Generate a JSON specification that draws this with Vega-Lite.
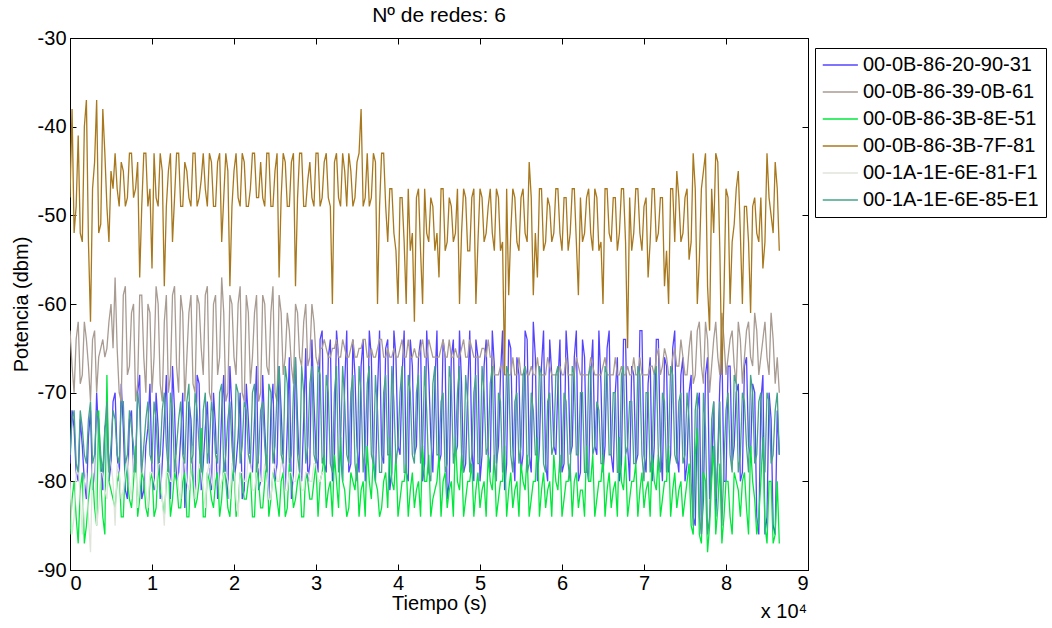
{
  "$schema": "https://vega.github.io/schema/vega-lite/v6.json",
  "width": 738,
  "height": 532,
  "autosize": {"type": "none"},
  "padding": {"left": 70, "top": 38, "right": 244, "bottom": 58},
  "background": "white",
  "config": {
    "font": "Liberation Sans",
    "view": {"stroke": "black", "strokeWidth": 1},
    "axis": {"grid": false, "domainColor": "black", "tickColor": "black", "labelColor": "black", "titleColor": "black", "labelFontSize": 20, "titleFontSize": 20, "titleFontWeight": "normal", "tickSize": -6}
  },
  "title": {"text": "Nº de redes: 6", "fontSize": 21, "fontWeight": "normal", "color": "black", "offset": 2, "anchor": "middle"},
  "layer": [
    {
      "data": {"values": [
{"t":0,"A":-78,"B":-63,"C":-86,"D":-48,"E":-80,"F":-77},
{"t":500,"A":-74,"B":-70,"C":-80,"D":-52,"E":-84,"F":-72},
{"t":1000,"A":-80,"B":-62,"C":-87,"D":-41,"E":-78,"F":-79},
{"t":1500,"A":-76,"B":-68,"C":-79,"D":-53,"E":-86,"F":-74},
{"t":2000,"A":-82,"B":-64,"C":-85,"D":-37,"E":-79,"F":-78},
{"t":2500,"A":-72,"B":-71,"C":-80,"D":-62,"E":-88,"F":-71},
{"t":3000,"A":-79,"B":-63,"C":-83,"D":-44,"E":-77,"F":-77},
{"t":3500,"A":-75,"B":-66,"C":-72,"D":-52,"E":-83,"F":-73},
{"t":4000,"A":-81,"B":-64,"C":-84,"D":-38,"E":-79,"F":-79},
{"t":4500,"A":-73,"B":-65,"C":-68,"D":-49,"E":-82,"F":-71},
{"t":5000,"A":-78,"B":-60,"C":-81,"D":-45,"E":-78,"F":-76},
{"t":5500,"A":-70,"B":-57,"C":-83,"D":-43,"E":-85,"F":-73},
{"t":6000,"A":-80,"B":-70,"C":-79,"D":-49,"E":-79,"F":-78},
{"t":6500,"A":-74,"B":-59,"C":-84,"D":-45,"E":-81,"F":-71},
{"t":7000,"A":-82,"B":-68,"C":-80,"D":-48,"E":-77,"F":-77},
{"t":7500,"A":-72,"B":-61,"C":-83,"D":-43,"E":-82,"F":-74},
{"t":8000,"A":-78,"B":-71,"C":-76,"D":-47,"E":-78,"F":-79},
{"t":8500,"A":-68,"B":-59,"C":-82,"D":-57,"E":-80,"F":-72},
{"t":9000,"A":-81,"B":-66,"C":-80,"D":-43,"E":-76,"F":-76},
{"t":9500,"A":-74,"B":-60,"C":-84,"D":-49,"E":-83,"F":-71},
{"t":10000,"A":-79,"B":-70,"C":-79,"D":-56,"E":-79,"F":-78},
{"t":10500,"A":-70,"B":-58,"C":-83,"D":-48,"E":-81,"F":-73},
{"t":11000,"A":-82,"B":-69,"C":-81,"D":-43,"E":-78,"F":-77},
{"t":11500,"A":-73,"B":-62,"C":-84,"D":-58,"E":-85,"F":-70},
{"t":12000,"A":-78,"B":-70,"C":-78,"D":-45,"E":-79,"F":-79},
{"t":12500,"A":-67,"B":-59,"C":-82,"D":-53,"E":-80,"F":-72},
{"t":13000,"A":-80,"B":-67,"C":-80,"D":-43,"E":-77,"F":-76},
{"t":13500,"A":-75,"B":-59,"C":-83,"D":-49,"E":-82,"F":-71},
{"t":14000,"A":-83,"B":-71,"C":-79,"D":-44,"E":-78,"F":-78},
{"t":14500,"A":-71,"B":-61,"C":-84,"D":-48,"E":-81,"F":-69},
{"t":15000,"A":-79,"B":-69,"C":-80,"D":-43,"E":-76,"F":-77},
{"t":15500,"A":-68,"B":-59,"C":-82,"D":-49,"E":-80,"F":-72},
{"t":16000,"A":-81,"B":-65,"C":-74,"D":-46,"E":-79,"F":-79},
{"t":16500,"A":-74,"B":-59,"C":-84,"D":-47,"E":-83,"F":-70},
{"t":17000,"A":-78,"B":-70,"C":-80,"D":-43,"E":-78,"F":-76},
{"t":17500,"A":-70,"B":-60,"C":-83,"D":-49,"E":-81,"F":-73},
{"t":18000,"A":-82,"B":-68,"C":-79,"D":-44,"E":-77,"F":-78},
{"t":18500,"A":-72,"B":-57,"C":-82,"D":-53,"E":-80,"F":-69},
{"t":19000,"A":-79,"B":-71,"C":-80,"D":-43,"E":-79,"F":-77},
{"t":19500,"A":-67,"B":-59,"C":-84,"D":-58,"E":-82,"F":-71},
{"t":20000,"A":-80,"B":-66,"C":-78,"D":-45,"E":-78,"F":-79},
{"t":20500,"A":-75,"B":-60,"C":-83,"D":-48,"E":-84,"F":-70},
{"t":21000,"A":-82,"B":-70,"C":-80,"D":-43,"E":-79,"F":-76},
{"t":21500,"A":-69,"B":-59,"C":-82,"D":-49,"E":-80,"F":-72},
{"t":22000,"A":-78,"B":-69,"C":-79,"D":-47,"E":-77,"F":-78},
{"t":22500,"A":-73,"B":-61,"C":-84,"D":-43,"E":-81,"F":-69},
{"t":23000,"A":-81,"B":-71,"C":-80,"D":-48,"E":-78,"F":-77},
{"t":23500,"A":-68,"B":-59,"C":-83,"D":-48,"E":-80,"F":-71},
{"t":24000,"A":-79,"B":-67,"C":-77,"D":-43,"E":-79,"F":-79},
{"t":24500,"A":-72,"B":-61,"C":-82,"D":-49,"E":-82,"F":-70},
{"t":25000,"A":-80,"B":-70,"C":-80,"D":-45,"E":-78,"F":-76},
{"t":25500,"A":-67,"B":-59,"C":-84,"D":-57,"E":-80,"F":-67},
{"t":26000,"A":-78,"B":-68,"C":-79,"D":-43,"E":-77,"F":-78},
{"t":26500,"A":-74,"B":-61,"C":-83,"D":-49,"E":-81,"F":-69},
{"t":27000,"A":-82,"B":-67,"C":-80,"D":-44,"E":-79,"F":-77},
{"t":27500,"A":-66,"B":-60,"C":-82,"D":-58,"E":-80,"F":-66},
{"t":28000,"A":-79,"B":-66,"C":-79,"D":-43,"E":-78,"F":-79},
{"t":28500,"A":-73,"B":-62,"C":-84,"D":-49,"E":-81,"F":-70},
{"t":29000,"A":-80,"B":-67,"C":-80,"D":-46,"E":-79,"F":-76},
{"t":29500,"A":-64,"B":-60,"C":-82,"D":-48,"E":-80,"F":-67},
{"t":30000,"A":-77,"B":-66,"C":-78,"D":-43,"E":-78,"F":-78},
{"t":30500,"A":-64,"B":-65,"C":-80,"D":-49,"E":-80,"F":-68},
{"t":31000,"A":-78,"B":-64,"C":-77,"D":-44,"E":-79,"F":-77},
{"t":31500,"A":-66,"B":-66,"C":-81,"D":-48,"F":-70},
{"t":32000,"A":-80,"B":-65,"C":-84,"D":-60,"F":-79},
{"t":32500,"A":-63,"B":-64,"C":-80,"D":-43,"F":-67},
{"t":33000,"A":-77,"B":-66,"C":-75,"D":-49,"F":-76},
{"t":33500,"A":-69,"B":-65,"C":-81,"D":-45,"F":-71},
{"t":34000,"A":-79,"B":-66,"C":-83,"D":-43,"F":-78},
{"t":34500,"A":-64,"B":-64,"C":-80,"D":-49,"F":-68},
{"t":35000,"A":-76,"B":-66,"C":-78,"D":-44,"F":-80},
{"t":35500,"A":-67,"B":-65,"C":-81,"D":-38,"F":-70},
{"t":36000,"A":-80,"B":-64,"C":-84,"D":-48,"F":-76},
{"t":36500,"A":-63,"B":-66,"C":-80,"D":-49,"F":-67},
{"t":37000,"A":-78,"B":-66,"C":-77,"D":-43,"F":-78},
{"t":37500,"A":-70,"B":-65,"C":-81,"D":-60,"F":-72},
{"t":38000,"A":-77,"B":-64,"C":-83,"D":-43,"F":-79},
{"t":38500,"A":-65,"B":-66,"C":-79,"D":-49,"F":-68},
{"t":39000,"A":-81,"B":-66,"C":-75,"D":-47,"F":-77},
{"t":39500,"A":-63,"B":-65,"C":-81,"D":-52,"F":-71},
{"t":40000,"A":-76,"B":-66,"C":-84,"D":-60,"F":-76},
{"t":40500,"A":-68,"B":-64,"C":-80,"D":-48,"F":-67},
{"t":41000,"A":-79,"B":-66,"C":-78,"D":-60,"F":-79},
{"t":41500,"A":-64,"B":-66,"C":-81,"D":-54,"F":-70},
{"t":42000,"A":-77,"B":-65,"C":-83,"D":-62,"F":-78},
{"t":42500,"A":-66,"B":-66,"C":-80,"D":-47,"F":-68},
{"t":43000,"A":-80,"B":-64,"C":-76,"D":-60,"F":-76},
{"t":43500,"A":-63,"B":-66,"C":-80,"D":-52,"F":-72},
{"t":44000,"A":-75,"B":-65,"C":-84,"D":-48,"F":-80},
{"t":44500,"A":-69,"B":-66,"C":-81,"D":-54,"F":-67},
{"t":45000,"A":-78,"B":-66,"C":-77,"D":-57,"F":-77},
{"t":45500,"A":-64,"B":-64,"C":-80,"D":-47,"F":-70},
{"t":46000,"A":-82,"B":-66,"C":-83,"D":-53,"F":-78},
{"t":46500,"A":-66,"B":-66,"C":-80,"D":-49,"F":-69},
{"t":47000,"A":-77,"B":-65,"C":-75,"D":-52,"F":-76},
{"t":47500,"A":-63,"B":-66,"C":-81,"D":-60,"F":-67},
{"t":48000,"A":-79,"B":-64,"C":-84,"D":-47,"F":-79},
{"t":48500,"A":-70,"B":-66,"C":-80,"D":-54,"F":-71},
{"t":49000,"A":-76,"B":-65,"C":-78,"D":-48,"F":-77},
{"t":49500,"A":-64,"B":-66,"C":-81,"D":-60,"F":-68},
{"t":50000,"A":-80,"B":-66,"C":-83,"D":-47,"F":-78},
{"t":50500,"A":-67,"B":-65,"C":-80,"D":-53,"F":-70},
{"t":51000,"A":-77,"B":-64,"C":-77,"D":-49,"F":-76},
{"t":51500,"A":-63,"B":-66,"C":-81,"D":-52,"F":-67},
{"t":52000,"A":-78,"B":-68,"C":-84,"D":-47,"F":-80},
{"t":52500,"A":-68,"B":-67,"C":-80,"D":-54,"F":-71},
{"t":53000,"A":-81,"B":-68,"C":-76,"D":-68,"F":-77},
{"t":53500,"A":-64,"B":-68,"C":-81,"D":-59,"F":-68},
{"t":54000,"A":-76,"B":-66,"C":-83,"D":-47,"F":-79},
{"t":54500,"A":-66,"B":-68,"C":-80,"D":-53,"F":-70},
{"t":55000,"A":-79,"B":-68,"C":-78,"D":-48,"F":-76},
{"t":55500,"A":-63,"B":-67,"C":-81,"D":-52,"F":-67},
{"t":56000,"A":-77,"B":-68,"C":-84,"D":-44,"F":-78},
{"t":56500,"A":-62,"B":-68,"C":-80,"D":-59,"F":-72},
{"t":57000,"A":-80,"B":-66,"C":-75,"D":-57,"F":-77},
{"t":57500,"A":-67,"B":-68,"C":-81,"D":-47,"F":-68},
{"t":58000,"A":-78,"B":-68,"C":-83,"D":-53,"F":-79},
{"t":58500,"A":-64,"B":-67,"C":-80,"D":-49,"F":-70},
{"t":59000,"A":-76,"B":-68,"C":-77,"D":-52,"F":-76},
{"t":59500,"A":-69,"B":-68,"C":-81,"D":-47,"F":-67},
{"t":60000,"A":-79,"B":-68,"C":-84,"D":-54,"F":-78},
{"t":60500,"A":-63,"B":-66,"C":-80,"D":-48,"F":-71},
{"t":61000,"A":-77,"B":-68,"C":-78,"D":-52,"F":-80},
{"t":61500,"A":-66,"B":-68,"C":-80,"D":-47,"F":-68},
{"t":62000,"A":-80,"B":-67,"C":-83,"D":-59,"F":-77},
{"t":62500,"A":-64,"B":-68,"C":-81,"D":-53,"F":-70},
{"t":63000,"A":-78,"B":-68,"C":-76,"D":-48,"F":-79},
{"t":63500,"A":-68,"B":-66,"C":-80,"D":-52,"F":-67},
{"t":64000,"A":-76,"B":-68,"C":-84,"D":-47,"F":-76},
{"t":64500,"A":-63,"B":-68,"C":-80,"D":-54,"F":-72},
{"t":65000,"A":-79,"B":-67,"C":-77,"D":-60,"F":-78},
{"t":65500,"A":-65,"B":-68,"C":-81,"D":-47,"F":-68},
{"t":66000,"A":-77,"B":-68,"C":-83,"D":-53,"F":-77},
{"t":66500,"A":-70,"B":-66,"C":-80,"D":-48,"F":-70},
{"t":67000,"A":-80,"B":-68,"C":-75,"D":-52,"F":-79},
{"t":67500,"A":-64,"B":-68,"C":-81,"D":-47,"F":-67},
{"t":68000,"A":-76,"B":-67,"C":-84,"D":-65,"F":-76},
{"t":68500,"A":-67,"B":-68,"C":-80,"D":-54,"F":-71},
{"t":69000,"A":-78,"B":-68,"C":-78,"D":-47,"F":-78},
{"t":69500,"A":-63,"B":-66,"C":-81,"D":-52,"F":-68},
{"t":70000,"A":-77,"B":-68,"C":-83,"D":-49,"F":-80},
{"t":70500,"A":-69,"B":-68,"C":-80,"D":-57,"F":-70},
{"t":71000,"A":-80,"B":-67,"C":-77,"D":-47,"F":-77},
{"t":71500,"A":-64,"B":-66,"C":-81,"D":-53,"F":-67},
{"t":72000,"A":-76,"B":-68,"C":-84,"D":-48,"F":-79},
{"t":72500,"A":-66,"B":-65,"C":-80,"D":-58,"F":-71},
{"t":73000,"A":-79,"B":-68,"C":-76,"D":-60,"F":-76},
{"t":73500,"A":-65,"B":-66,"C":-81,"D":-47,"F":-68},
{"t":74000,"A":-77,"B":-67,"C":-83,"D":-45,"F":-78},
{"t":74500,"A":-68,"B":-64,"C":-80,"D":-53,"F":-70},
{"t":75000,"A":-80,"B":-68,"C":-82,"D":-48,"F":-77},
{"t":75500,"A":-70,"B":-65,"C":-78,"D":-55,"F":-73},
{"t":76000,"A":-84,"B":-69,"C":-86,"D":-43,"F":-85},
{"t":76500,"A":-72,"B":-63,"C":-74,"D":-60,"F":-70},
{"t":77000,"A":-86,"B":-67,"C":-87,"D":-47,"F":-86},
{"t":77500,"A":-68,"B":-62,"C":-80,"D":-43,"F":-74},
{"t":78000,"A":-82,"B":-70,"C":-85,"D":-63,"F":-84},
{"t":78500,"A":-71,"B":-64,"C":-76,"D":-52,"F":-71},
{"t":79000,"A":-77,"B":-66,"C":-83,"D":-44,"F":-78},
{"t":79500,"A":-65,"B":-61,"C":-87,"D":-68,"F":-85},
{"t":80000,"A":-80,"B":-68,"C":-80,"D":-47,"F":-72},
{"t":80500,"A":-67,"B":-64,"C":-84,"D":-60,"F":-77},
{"t":81000,"A":-76,"B":-67,"C":-79,"D":-51,"F":-68},
{"t":81500,"A":-69,"B":-62,"C":-81,"D":-45,"F":-79},
{"t":82000,"A":-79,"B":-69,"C":-80,"D":-60,"F":-70},
{"t":82500,"A":-66,"B":-63,"C":-83,"D":-49,"F":-76},
{"t":83000,"A":-77,"B":-66,"C":-76,"D":-61,"F":-68},
{"t":83500,"A":-70,"B":-61,"C":-82,"D":-48,"F":-78},
{"t":84000,"A":-86,"B":-68,"C":-84,"D":-53,"F":-71},
{"t":84500,"A":-68,"B":-64,"C":-75,"D":-56,"F":-77},
{"t":85000,"A":-84,"B":-66,"C":-87,"D":-43,"F":-70},
{"t":85500,"A":-73,"B":-61,"C":-80,"D":-50,"F":-78},
{"t":86000,"A":-86,"B":-69,"C":-86,"D":-44,"F":-72},
{"t":86500,"A":-77,"B":-70,"C":-87,"D":-54,"F":-77},
{"t":250,"A":-72,"B":-67,"C":-82,"D":-38,"E":-86,"F":-73},
{"t":750,"A":-79,"B":-64,"C":-84,"D":-49,"E":-79,"F":-78},
{"t":1250,"A":-73,"B":-69,"C":-81,"D":-52,"E":-82,"F":-72},
{"t":1750,"A":-80,"B":-62,"C":-87,"D":-40,"E":-80,"F":-77},
{"t":2250,"A":-75,"B":-67,"C":-82,"D":-53,"E":-84,"F":-73},
{"t":2750,"A":-81,"B":-64,"C":-79,"D":-47,"E":-78,"F":-78},
{"t":3250,"A":-70,"B":-70,"C":-85,"D":-37,"E":-85,"F":-72},
{"t":3750,"A":-78,"B":-65,"C":-80,"D":-51,"E":-79,"F":-77},
{"t":4250,"A":-74,"B":-66,"C":-86,"D":-43,"E":-81,"F":-74},
{"t":4750,"A":-80,"B":-62,"C":-80,"D":-53,"E":-77,"F":-79},
{"t":5250,"A":-71,"B":-65,"C":-82,"D":-47,"E":-80,"F":-72},
{"t":5750,"A":-77,"B":-65,"C":-80,"D":-47,"E":-78,"F":-77},
{"t":6250,"A":-69,"B":-71,"C":-84,"D":-44,"E":-82,"F":-71},
{"t":6750,"A":-81,"B":-58,"C":-78,"D":-49,"E":-79,"F":-78},
{"t":7250,"A":-73,"B":-67,"C":-82,"D":-43,"E":-80,"F":-72},
{"t":7750,"A":-79,"B":-60,"C":-80,"D":-48,"E":-77,"F":-76},
{"t":8250,"A":-70,"B":-69,"C":-84,"D":-44,"E":-83,"F":-70},
{"t":8750,"A":-82,"B":-59,"C":-79,"D":-49,"E":-78,"F":-79},
{"t":9250,"A":-76,"B":-70,"C":-83,"D":-43,"E":-81,"F":-73},
{"t":9750,"A":-69,"B":-61,"C":-80,"D":-47,"E":-79,"F":-77},
{"t":10250,"A":-81,"B":-66,"C":-84,"D":-43,"E":-80,"F":-71},
{"t":10750,"A":-74,"B":-60,"C":-78,"D":-49,"E":-78,"F":-78},
{"t":11250,"A":-78,"B":-71,"C":-82,"D":-45,"E":-82,"F":-72},
{"t":11750,"A":-68,"B":-59,"C":-80,"D":-49,"E":-79,"F":-76},
{"t":12250,"A":-82,"B":-68,"C":-84,"D":-43,"E":-80,"F":-70},
{"t":12750,"A":-72,"B":-58,"C":-79,"D":-48,"E":-78,"F":-79},
{"t":13250,"A":-79,"B":-70,"C":-83,"D":-43,"E":-81,"F":-73},
{"t":13750,"A":-70,"B":-61,"C":-80,"D":-49,"E":-77,"F":-77},
{"t":14250,"A":-80,"B":-66,"C":-84,"D":-45,"E":-80,"F":-71},
{"t":14750,"A":-73,"B":-59,"C":-78,"D":-49,"E":-79,"F":-78},
{"t":15250,"A":-82,"B":-70,"C":-83,"D":-43,"E":-82,"F":-70},
{"t":15750,"A":-69,"B":-60,"C":-80,"D":-48,"E":-78,"F":-76},
{"t":16250,"A":-78,"B":-68,"C":-84,"D":-43,"E":-81,"F":-72},
{"t":16750,"A":-71,"B":-58,"C":-79,"D":-49,"E":-79,"F":-78},
{"t":17250,"A":-81,"B":-71,"C":-82,"D":-44,"E":-80,"F":-71},
{"t":17750,"A":-74,"B":-59,"C":-80,"D":-49,"E":-77,"F":-77},
{"t":18250,"A":-79,"B":-66,"C":-84,"D":-43,"E":-81,"F":-70},
{"t":18750,"A":-68,"B":-61,"C":-78,"D":-48,"E":-79,"F":-79},
{"t":19250,"A":-82,"B":-70,"C":-83,"D":-45,"E":-80,"F":-73},
{"t":19750,"A":-72,"B":-60,"C":-80,"D":-49,"E":-78,"F":-76},
{"t":20250,"A":-78,"B":-68,"C":-84,"D":-43,"E":-82,"F":-69},
{"t":20750,"A":-70,"B":-58,"C":-79,"D":-49,"E":-79,"F":-78},
{"t":21250,"A":-81,"B":-71,"C":-82,"D":-44,"E":-80,"F":-71},
{"t":21750,"A":-73,"B":-61,"C":-80,"D":-49,"E":-77,"F":-77},
{"t":22250,"A":-79,"B":-66,"C":-84,"D":-43,"E":-81,"F":-70},
{"t":22750,"A":-67,"B":-59,"C":-78,"D":-48,"E":-79,"F":-79},
{"t":23250,"A":-80,"B":-70,"C":-83,"D":-44,"E":-80,"F":-72},
{"t":23750,"A":-74,"B":-60,"C":-80,"D":-49,"E":-78,"F":-76},
{"t":24250,"A":-82,"B":-68,"C":-84,"D":-43,"E":-82,"F":-69},
{"t":24750,"A":-69,"B":-58,"C":-79,"D":-49,"E":-79,"F":-78},
{"t":25250,"A":-78,"B":-71,"C":-82,"D":-43,"E":-80,"F":-70},
{"t":25750,"A":-72,"B":-61,"C":-80,"D":-48,"E":-78,"F":-77},
{"t":26250,"A":-81,"B":-66,"C":-84,"D":-44,"E":-81,"F":-67},
{"t":26750,"A":-66,"B":-63,"C":-78,"D":-49,"E":-79,"F":-78},
{"t":27250,"A":-79,"B":-69,"C":-83,"D":-43,"E":-80,"F":-70},
{"t":27750,"A":-73,"B":-61,"C":-80,"D":-48,"E":-77,"F":-77},
{"t":28250,"A":-80,"B":-67,"C":-84,"D":-43,"E":-81,"F":-67},
{"t":28750,"A":-65,"B":-60,"C":-79,"D":-49,"E":-79,"F":-78},
{"t":29250,"A":-78,"B":-66,"C":-82,"D":-44,"E":-80,"F":-69},
{"t":29750,"A":-71,"B":-62,"C":-80,"D":-49,"E":-78,"F":-77},
{"t":30250,"A":-79,"B":-67,"C":-84,"D":-43,"E":-80,"F":-67},
{"t":30750,"A":-63,"B":-65,"C":-79,"D":-48,"E":-79,"F":-78},
{"t":31250,"A":-79,"B":-65,"C":-83,"D":-43,"F":-68},
{"t":31750,"A":-64,"B":-66,"C":-80,"D":-49,"F":-78},
{"t":32250,"A":-77,"B":-65,"C":-77,"D":-44,"F":-70},
{"t":32750,"A":-66,"B":-66,"C":-83,"D":-48,"F":-79},
{"t":33250,"A":-80,"B":-64,"C":-80,"D":-43,"F":-67},
{"t":33750,"A":-63,"B":-66,"C":-84,"D":-49,"F":-77},
{"t":34250,"A":-78,"B":-65,"C":-79,"D":-45,"F":-70},
{"t":34750,"A":-68,"B":-66,"C":-81,"D":-48,"F":-78},
{"t":35250,"A":-79,"B":-65,"C":-84,"D":-43,"F":-67},
{"t":35750,"A":-64,"B":-64,"C":-80,"D":-49,"F":-79},
{"t":36250,"A":-77,"B":-66,"C":-76,"D":-43,"F":-69},
{"t":36750,"A":-66,"B":-65,"C":-82,"D":-48,"F":-77},
{"t":37250,"A":-80,"B":-66,"C":-80,"D":-44,"F":-68},
{"t":37750,"A":-63,"B":-64,"C":-84,"D":-49,"F":-79},
{"t":38250,"A":-78,"B":-66,"C":-80,"D":-43,"F":-70},
{"t":38750,"A":-64,"B":-65,"C":-83,"D":-53,"F":-77},
{"t":39250,"A":-79,"B":-66,"C":-80,"D":-47,"F":-67},
{"t":39750,"A":-66,"B":-66,"C":-77,"D":-54,"F":-78},
{"t":40250,"A":-77,"B":-65,"C":-82,"D":-48,"F":-70},
{"t":40750,"A":-63,"B":-66,"C":-80,"D":-53,"F":-79},
{"t":41250,"A":-80,"B":-64,"C":-84,"D":-47,"F":-68},
{"t":41750,"A":-67,"B":-66,"C":-79,"D":-52,"F":-77},
{"t":42250,"A":-76,"B":-66,"C":-81,"D":-48,"F":-70},
{"t":42750,"A":-64,"B":-65,"C":-84,"D":-54,"F":-78},
{"t":43250,"A":-78,"B":-66,"C":-80,"D":-47,"F":-67},
{"t":43750,"A":-68,"B":-64,"C":-77,"D":-53,"F":-79},
{"t":44250,"A":-79,"B":-66,"C":-82,"D":-49,"F":-69},
{"t":44750,"A":-63,"B":-66,"C":-80,"D":-52,"F":-77},
{"t":45250,"A":-77,"B":-65,"C":-84,"D":-47,"F":-71},
{"t":45750,"A":-66,"B":-66,"C":-79,"D":-54,"F":-79},
{"t":46250,"A":-80,"B":-64,"C":-81,"D":-48,"F":-67},
{"t":46750,"A":-64,"B":-66,"C":-84,"D":-53,"F":-78},
{"t":47250,"A":-76,"B":-66,"C":-80,"D":-47,"F":-70},
{"t":47750,"A":-69,"B":-65,"C":-77,"D":-52,"F":-77},
{"t":48250,"A":-78,"B":-66,"C":-82,"D":-48,"F":-68},
{"t":48750,"A":-63,"B":-64,"C":-80,"D":-54,"F":-79},
{"t":49250,"A":-80,"B":-66,"C":-84,"D":-47,"F":-70},
{"t":49750,"A":-66,"B":-66,"C":-79,"D":-53,"F":-78},
{"t":50250,"A":-77,"B":-65,"C":-81,"D":-48,"F":-67},
{"t":50750,"A":-64,"B":-66,"C":-84,"D":-52,"F":-77},
{"t":51250,"A":-79,"B":-66,"C":-80,"D":-47,"F":-69},
{"t":51750,"A":-67,"B":-68,"C":-77,"D":-54,"F":-78},
{"t":52250,"A":-76,"B":-68,"C":-82,"D":-48,"F":-70},
{"t":52750,"A":-63,"B":-67,"C":-80,"D":-53,"F":-79},
{"t":53250,"A":-78,"B":-68,"C":-84,"D":-47,"F":-67},
{"t":53750,"A":-65,"B":-68,"C":-79,"D":-52,"F":-77},
{"t":54250,"A":-80,"B":-68,"C":-81,"D":-48,"F":-71},
{"t":54750,"A":-68,"B":-66,"C":-84,"D":-54,"F":-78},
{"t":55250,"A":-77,"B":-68,"C":-80,"D":-47,"F":-68},
{"t":55750,"A":-64,"B":-68,"C":-77,"D":-53,"F":-79},
{"t":56250,"A":-79,"B":-67,"C":-82,"D":-48,"F":-70},
{"t":56750,"A":-66,"B":-68,"C":-80,"D":-52,"F":-77},
{"t":57250,"A":-76,"B":-68,"C":-84,"D":-47,"F":-67},
{"t":57750,"A":-63,"B":-68,"C":-79,"D":-54,"F":-78},
{"t":58250,"A":-80,"B":-66,"C":-81,"D":-48,"F":-71},
{"t":58750,"A":-68,"B":-68,"C":-84,"D":-53,"F":-77},
{"t":59250,"A":-77,"B":-68,"C":-80,"D":-47,"F":-68},
{"t":59750,"A":-64,"B":-67,"C":-77,"D":-52,"F":-79},
{"t":60250,"A":-78,"B":-68,"C":-82,"D":-48,"F":-70},
{"t":60750,"A":-67,"B":-68,"C":-80,"D":-54,"F":-78},
{"t":61250,"A":-76,"B":-68,"C":-84,"D":-47,"F":-67},
{"t":61750,"A":-63,"B":-66,"C":-79,"D":-53,"F":-77},
{"t":62250,"A":-79,"B":-68,"C":-81,"D":-48,"F":-70},
{"t":62750,"A":-66,"B":-68,"C":-84,"D":-52,"F":-79},
{"t":63250,"A":-80,"B":-68,"C":-80,"D":-47,"F":-68},
{"t":63750,"A":-64,"B":-67,"C":-77,"D":-54,"F":-77},
{"t":64250,"A":-77,"B":-68,"C":-82,"D":-48,"F":-71},
{"t":64750,"A":-69,"B":-68,"C":-80,"D":-53,"F":-78},
{"t":65250,"A":-76,"B":-66,"C":-84,"D":-47,"F":-67},
{"t":65750,"A":-63,"B":-68,"C":-79,"D":-52,"F":-77},
{"t":66250,"A":-79,"B":-68,"C":-81,"D":-48,"F":-70},
{"t":66750,"A":-66,"B":-68,"C":-84,"D":-54,"F":-79},
{"t":67250,"A":-78,"B":-67,"C":-80,"D":-47,"F":-68},
{"t":67750,"A":-64,"B":-68,"C":-77,"D":-53,"F":-77},
{"t":68250,"A":-80,"B":-68,"C":-82,"D":-48,"F":-71},
{"t":68750,"A":-68,"B":-66,"C":-80,"D":-52,"F":-78},
{"t":69250,"A":-77,"B":-68,"C":-84,"D":-47,"F":-67},
{"t":69750,"A":-63,"B":-68,"C":-79,"D":-54,"F":-77},
{"t":70250,"A":-79,"B":-68,"C":-81,"D":-48,"F":-70},
{"t":70750,"A":-66,"B":-67,"C":-84,"D":-53,"F":-79},
{"t":71250,"A":-76,"B":-68,"C":-80,"D":-47,"F":-68},
{"t":71750,"A":-64,"B":-65,"C":-77,"D":-52,"F":-77},
{"t":72250,"A":-80,"B":-67,"C":-82,"D":-48,"F":-70},
{"t":72750,"A":-67,"B":-66,"C":-80,"D":-54,"F":-79},
{"t":73250,"A":-77,"B":-68,"C":-84,"D":-47,"F":-67},
{"t":73750,"A":-63,"B":-65,"C":-79,"D":-53,"F":-77},
{"t":74250,"A":-79,"B":-67,"C":-81,"D":-48,"F":-71},
{"t":74750,"A":-66,"B":-66,"C":-84,"D":-52,"F":-78},
{"t":75250,"A":-78,"B":-68,"C":-80,"D":-47,"F":-70},
{"t":75750,"A":-68,"B":-63,"C":-85,"D":-53,"F":-80},
{"t":76250,"A":-85,"B":-68,"C":-77,"D":-47,"F":-72},
{"t":76750,"A":-70,"B":-62,"C":-86,"D":-55,"F":-84},
{"t":77250,"A":-82,"B":-69,"C":-79,"D":-45,"F":-70},
{"t":77750,"A":-66,"B":-64,"C":-88,"D":-58,"F":-86},
{"t":78250,"A":-79,"B":-67,"C":-80,"D":-47,"F":-73},
{"t":78750,"A":-84,"B":-62,"C":-86,"D":-43,"F":-82},
{"t":79250,"A":-69,"B":-68,"C":-78,"D":-54,"F":-71},
{"t":79750,"A":-80,"B":-64,"C":-84,"D":-59,"F":-78},
{"t":80250,"A":-67,"B":-66,"C":-80,"D":-48,"F":-70},
{"t":80750,"A":-78,"B":-63,"C":-86,"D":-53,"F":-79},
{"t":81250,"A":-70,"B":-69,"C":-80,"D":-47,"F":-69},
{"t":81750,"A":-80,"B":-64,"C":-84,"D":-52,"F":-77},
{"t":82250,"A":-67,"B":-66,"C":-79,"D":-49,"F":-71},
{"t":82750,"A":-76,"B":-62,"C":-86,"D":-53,"F":-79},
{"t":83250,"A":-69,"B":-67,"C":-80,"D":-49,"F":-70},
{"t":83750,"A":-84,"B":-63,"C":-86,"D":-52,"F":-77},
{"t":84250,"A":-71,"B":-66,"C":-80,"D":-48,"F":-70},
{"t":84750,"A":-86,"B":-62,"C":-85,"D":-53,"F":-79},
{"t":85250,"A":-70,"B":-68,"C":-80,"D":-48,"F":-71},
{"t":85750,"A":-85,"B":-64,"C":-87,"D":-52,"F":-77},
{"t":86250,"A":-72,"B":-66,"C":-80,"D":-47,"F":-70}
      ]},
      "transform": [
        {"fold": ["A", "B", "C", "D", "E", "F"], "as": ["k", "v"]},
        {"filter": "isValid(datum.v)"}
      ],
      "mark": {"type": "line", "strokeWidth": 1.3, "clip": true},
      "encoding": {
        "x": {"field": "t", "type": "quantitative", "scale": {"domain": [0, 90000], "nice": false, "zero": false},
          "axis": {"orient": "bottom", "values": [0, 10000, 20000, 30000, 40000, 50000, 60000, 70000, 80000, 90000], "labelExpr": "'' + (datum.value / 10000)", "title": "Tiempo (s)", "labelPadding": 9, "titlePadding": 0}},
        "y": {"field": "v", "type": "quantitative", "scale": {"domain": [-90, -30], "nice": false, "zero": false},
          "axis": {"orient": "left", "values": [-90, -80, -70, -60, -50, -40, -30], "labelExpr": "'' + datum.value", "title": "Potencia (dbm)", "labelPadding": 10, "titlePadding": 6}},
        "color": {"field": "k", "type": "nominal",
          "scale": {"domain": ["A", "B", "C", "D", "E", "F"], "range": ["#5544ff", "#a89b92", "#00e83c", "#a8781e", "#dfe5da", "#44a38a"]},
          "legend": {"orient": "none", "legendX": 745, "legendY": 10, "title": null, "direction": "vertical", "columns": 1,
            "labelExpr": "datum.label == 'A' ? '00-0B-86-20-90-31' : datum.label == 'B' ? '00-0B-86-39-0B-61' : datum.label == 'C' ? '00-0B-86-3B-8E-51' : datum.label == 'D' ? '00-0B-86-3B-7F-81' : datum.label == 'E' ? '00-1A-1E-6E-81-F1' : '00-1A-1E-6E-85-E1'",
            "labelFontSize": 20, "labelColor": "black", "labelLimit": 400, "symbolType": "M-1,0H2.8", "symbolSize": 342, "symbolStrokeWidth": 1.5,
            "strokeColor": "black", "fillColor": "white", "padding": 7, "rowPadding": 7, "labelOffset": 21}}
      }
    },
    {
      "data": {"values": [{"t": 0, "v": -90}]},
      "mark": {"type": "point", "opacity": 0},
      "encoding": {
        "x": {"field": "t", "type": "quantitative", "scale": {"domain": [0, 90000], "nice": false, "zero": false},
          "axis": {"orient": "top", "values": [0, 10000, 20000, 30000, 40000, 50000, 60000, 70000, 80000, 90000], "labels": false, "domain": false, "title": null}},
        "y": {"field": "v", "type": "quantitative", "scale": {"domain": [-90, -30], "nice": false, "zero": false},
          "axis": {"orient": "right", "values": [-90, -80, -70, -60, -50, -40, -30], "labels": false, "domain": false, "title": null}}
      }
    },
    {
      "data": {"values": [{"t": 87070, "v": -94.7, "s": "x 10⁴"}]},
      "mark": {"type": "text", "fontSize": 20, "align": "center", "baseline": "middle", "clip": false, "color": "black"},
      "encoding": {
        "x": {"field": "t", "type": "quantitative", "scale": {"domain": [0, 90000], "nice": false, "zero": false}, "axis": null},
        "y": {"field": "v", "type": "quantitative", "scale": {"domain": [-90, -30], "nice": false, "zero": false}, "axis": null},
        "text": {"field": "s"}
      }
    }
  ],
  "resolve": {"axis": {"x": "independent", "y": "independent"}}
}
